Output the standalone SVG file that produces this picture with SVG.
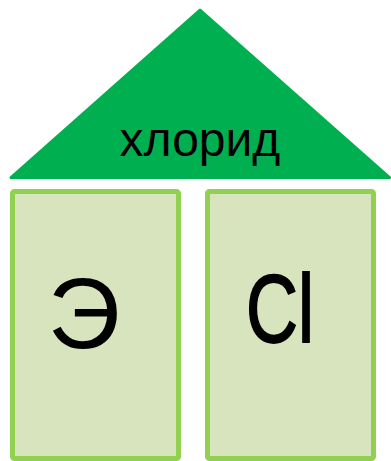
<svg xmlns="http://www.w3.org/2000/svg" width="391" height="461" viewBox="0 0 391 461">
<style>
.box{fill:#D7E4BD;stroke:#92D050;stroke-width:5}
.t{font-family:"Liberation Sans",Arial,sans-serif;fill:#000;text-anchor:middle}
</style>
<rect width="391" height="461" fill="#fff"/>
<g id="roof">
<path d="M11,177.5 L200,10 L389.5,177.5 Z" fill="#00B050" stroke="#00B050" stroke-width="3" stroke-linejoin="round"/>
<text class="t" x="200" y="156" font-size="48">хлорид</text>
</g>
<g id="left">
<rect class="box" x="12.5" y="191.5" width="166" height="267" rx="2"/>
<text class="t" x="84" y="348" font-size="101">Э</text>
</g>
<g id="right">
<rect class="box" x="207.5" y="191.5" width="166" height="267" rx="2"/>
<text class="t" x="280" y="342" font-size="97" textLength="68" lengthAdjust="spacingAndGlyphs" stroke="#000" stroke-width="1.8">Cl</text>
</g>
<g id="connectors"/>
</svg>
